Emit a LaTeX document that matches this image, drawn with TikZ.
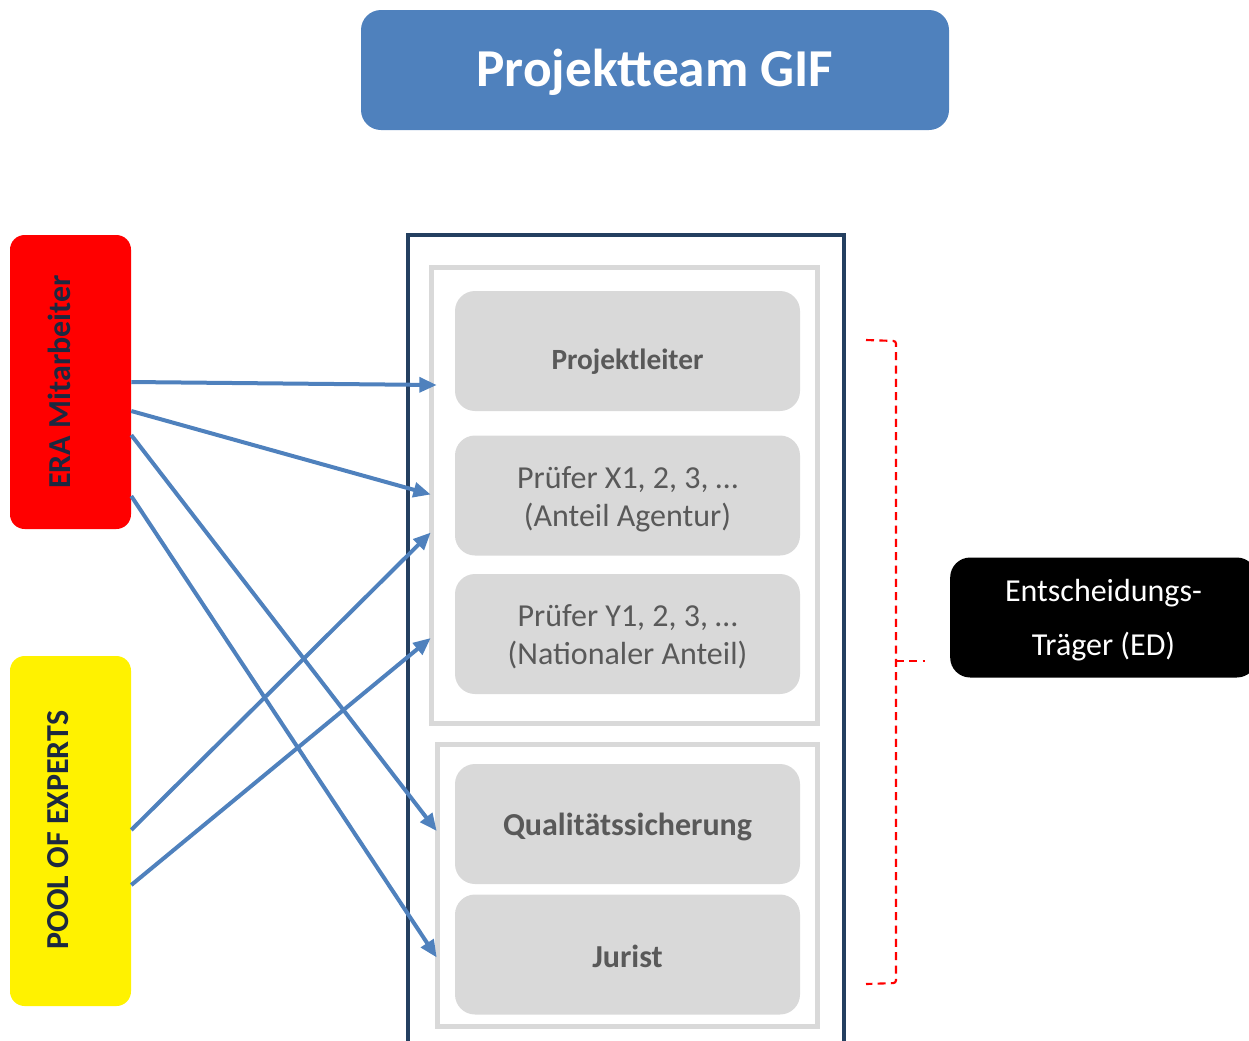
\documentclass[tikz,border=0pt]{standalone}
\usepackage{fontspec}
\setmainfont{Carlito}
\usepackage{graphicx}
\usetikzlibrary{arrows.meta, calc}

\definecolor{gifblue}{HTML}{4F81BD}
\definecolor{boxgray}{HTML}{D9D9D9}
\definecolor{txtgray}{HTML}{595959}
\definecolor{framenavy}{HTML}{243F60}
\definecolor{sidetext}{HTML}{1C2840}
\newcommand{\sunk}[2]{\raisebox{-#1}[\height][\depth]{#2}}
\newcommand{\twolines}[3]{\sunk{#1}{\begin{tabular}{@{}c@{}}#2\\#3\end{tabular}}}

\begin{document}
\begin{tikzpicture}[x=0.75pt, y=-0.75pt,
    member/.style={fill=boxgray, rounded corners=15pt, minimum width=258.75pt, minimum height=90pt, text=txtgray, align=center, inner sep=0pt},
    side/.style={rounded corners=11pt, minimum width=90.75pt, inner sep=0pt},
    sidelabel/.style={text=sidetext, font=\fontsize{24}{28}\selectfont\bfseries, rotate=90, inner sep=0pt},
    link/.style={draw=gifblue, line width=3pt, -{Triangle[length=13pt, width=11pt]}},
    group/.style={draw=boxgray, line width=3.5pt}]
    \useasboundingbox (0,0) rectangle (1249,1040);

    % title
    \node[fill=gifblue, rounded corners=15pt, minimum width=441pt, minimum height=90pt, text=white, font=\fontsize{40}{46}\selectfont\bfseries] (title) at (655,70) {\sunk{2pt}{Projektteam GIF}};

    % sources on the left
    \node[side, fill=red, minimum height=220.5pt] (era) at (70.5,382) {};
    \node[sidelabel] (eratext) at (59,382) {ERA Mitarbeiter};
    \node[side, fill=yellow, minimum height=262.5pt] (pool) at (70.5,831) {};
    \node[sidelabel] (pooltext) at (58,830) {POOL OF EXPERTS};

    % team frame
    \draw[framenavy, line width=3pt] (407.5,1045) -- (407.5,235) -- (843.5,235) -- (843.5,1045);
    \draw[group] (431.5,267.5) rectangle (817.5,723.5);
    \draw[group] (437.5,744.5) rectangle (817.5,1026.5);

    % members
    \node[member, font=\fontsize{22}{26}\selectfont\bfseries] (pl) at (627.5,351) {\sunk{8pt}{Projektleiter}};
    \node[member, font=\fontsize{24}{28.5}\selectfont] (px) at (627.5,495.5) {\twolines{3pt}{Prüfer X1, 2, 3, …}{(Anteil Agentur)}};
    \node[member, font=\fontsize{24}{28.5}\selectfont] (py) at (627.5,634) {\twolines{3pt}{Prüfer Y1, 2, 3, …}{(Nationaler Anteil)}};
    \node[member, font=\fontsize{24}{28}\selectfont\bfseries] (qs) at (627.5,824) {\sunk{2pt}{Qualitätssicherung}};
    \node[member, font=\fontsize{24}{28}\selectfont\bfseries] (jur) at (627.5,954.5) {\sunk{1.5pt}{Jurist}};

    % decision maker
    \node[fill=black, rounded corners=15pt, minimum width=230pt, minimum height=90pt, text=white, align=center, inner sep=0pt, font=\fontsize{24}{40.5}\selectfont] (ed) at (1103.5,617.5) {\twolines{0.3pt}{Entscheidungs-}{Träger (ED)}};

    % links
    \draw[link] (era.east) -- ($(pl.west)+(-18,34)$);
    \draw[link] ($(era.east)+(0,29)$) -- ($(px.west)+(-24,-1)$);
    \draw[link] ($(era.east)+(0,53)$) -- ($(qs.west)+(-18,7)$);
    \draw[link] ($(era.east)+(0,114)$) -- ($(jur.west)+(-18,3)$);
    \draw[link] ($(pool.east)+(0,-1)$) -- ($(px.west)+(-24,37)$);
    \draw[link] ($(pool.east)+(0,54)$) -- ($(py.west)+(-24,4)$);

    % bracket
    \coordinate (brtop) at (866,340);
    \coordinate (brbot) at (866,984);
    \coordinate (brtip) at (925,661);
    \draw[red, line width=1.6pt, dashed, dash pattern=on 6pt off 4pt, rounded corners=2pt] (brtop) -- (896,341) -- (896,983) -- (brbot);
    \draw[red, line width=1.6pt, dashed, dash pattern=on 6pt off 4pt] (896,661) -- (brtip);
\end{tikzpicture}
\end{document}
